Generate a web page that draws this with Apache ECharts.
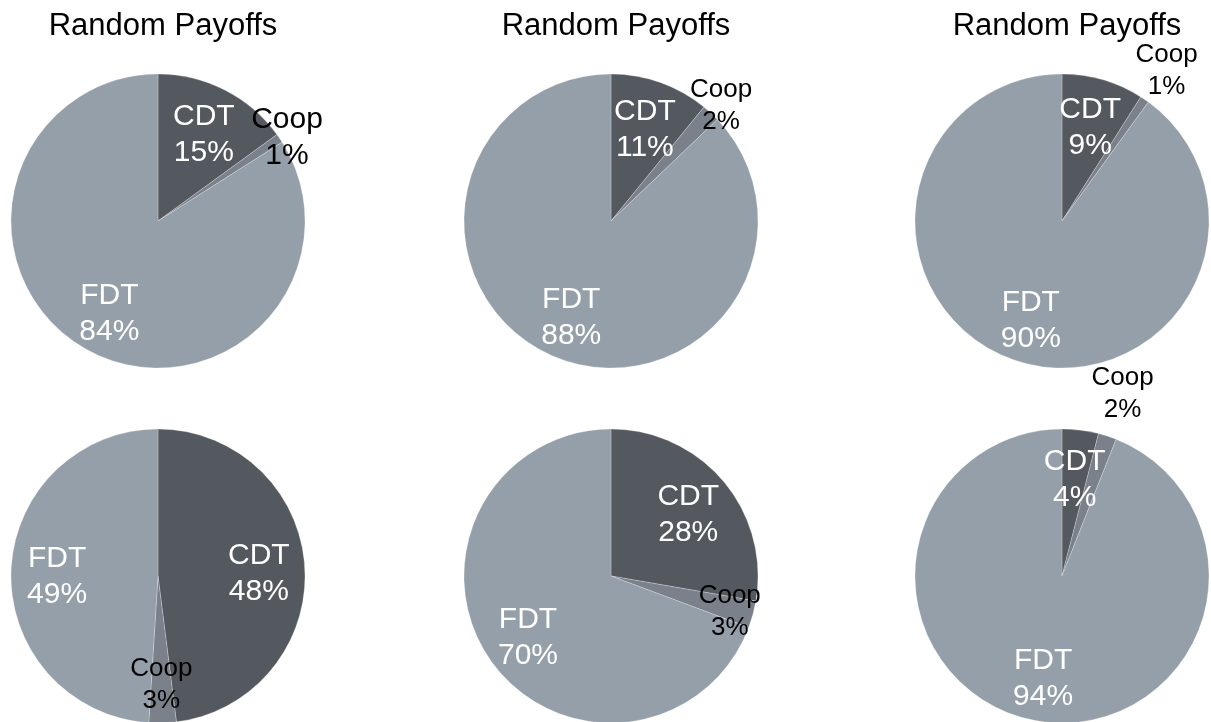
<!DOCTYPE html>
<html>
<head>
<meta charset="utf-8">
<title>Random Payoffs</title>
<script src="https://cdn.jsdelivr.net/npm/echarts@6/dist/echarts.min.js"></script>
<style>
  html, body { margin: 0; padding: 0; background: #ffffff; }
  #main { width: 1211px; height: 722px; }
</style>
</head>
<body>
<div id="main"></div>
<script>
// data, one entry per pie (top row left->right, then bottom row)
const categories = ['CDT', 'Coop', 'FDT'];
const cdtShare = [15, 11, 9, 48, 28, 4];
const coopShare = [1, 2, 1, 3, 3, 2];
const fdtShare = [84, 88, 90, 49, 70, 94];
const titleTexts = ['Random Payoffs', 'Random Payoffs', 'Random Payoffs'];

// layout / style
const centers = [[158, 221], [611, 221], [1062, 221], [158, 576], [611, 576], [1062, 576]];
const pieRadius = 147;
const labelRadius = 98;                             // distance of CDT / FDT labels
const coopLabelRadius = [153, 159, 183, 102, 120, 193];
const coopFontSize = [30, 26, 26, 26, 26, 26];
const colors = ['#54585f', '#7b818a', '#959fa9'];
const fontFamily = '"Liberation Sans", Arial, Helvetica, sans-serif';

const myChart = echarts.init(document.getElementById('main'));

function pieData(i) {
  const vals = [cdtShare[i], coopShare[i], fdtShare[i]];
  return categories.map((name, k) => ({ name: name, value: vals[k] }));
}

const series = [];
centers.forEach((c, i) => {
  // visible slices
  series.push({
    type: 'pie',
    center: c,
    radius: pieRadius,
    startAngle: 90,
    clockwise: true,
    silent: true,
    avoidLabelOverlap: false,
    label: { show: false },
    labelLine: { show: false },
    itemStyle: {
      color: (p) => colors[p.dataIndex],
      borderColor: 'rgba(255,255,255,0.3)',
      borderWidth: 0.8
    },
    data: pieData(i)
  });
  // CDT / FDT labels (transparent pie, only carries labels)
  series.push({
    type: 'pie',
    center: c,
    radius: labelRadius * 2,
    startAngle: 90,
    clockwise: true,
    silent: true,
    avoidLabelOverlap: false,
    itemStyle: { color: 'rgba(0,0,0,0)', borderWidth: 0 },
    labelLine: { show: false },
    label: {
      show: true,
      position: 'inside',
      formatter: '{b}\n{c}%',
      color: '#ffffff',
      fontSize: 30,
      lineHeight: 36,
      offset: [0, 4],
      fontFamily: fontFamily
    },
    data: pieData(i).map(d => d.name === 'Coop' ? Object.assign(d, { label: { show: false } }) : d)
  });
  // Coop label
  series.push({
    type: 'pie',
    center: c,
    radius: coopLabelRadius[i] * 2,
    startAngle: 90,
    clockwise: true,
    silent: true,
    avoidLabelOverlap: false,
    itemStyle: { color: 'rgba(0,0,0,0)', borderWidth: 0 },
    labelLine: { show: false },
    label: {
      show: true,
      position: 'inside',
      formatter: '{b}\n{c}%',
      color: '#000000',
      fontSize: coopFontSize[i],
      lineHeight: coopFontSize[i] + 6,
      offset: [0, 4],
      fontFamily: fontFamily
    },
    data: pieData(i).map(d => d.name !== 'Coop' ? Object.assign(d, { label: { show: false } }) : d)
  });
});

const option = {
  animation: false,
  title: titleTexts.map((t, i) => ({
    text: t,
    left: centers[i][0],
    top: 6,
    textAlign: 'center',
    textStyle: { fontSize: 31, fontWeight: 'normal', color: '#000000', fontFamily: fontFamily }
  })),
  series: series
};
myChart.setOption(option);
window.addEventListener('resize', function () {
  myChart.resize();
});
</script>
</body>
</html>
